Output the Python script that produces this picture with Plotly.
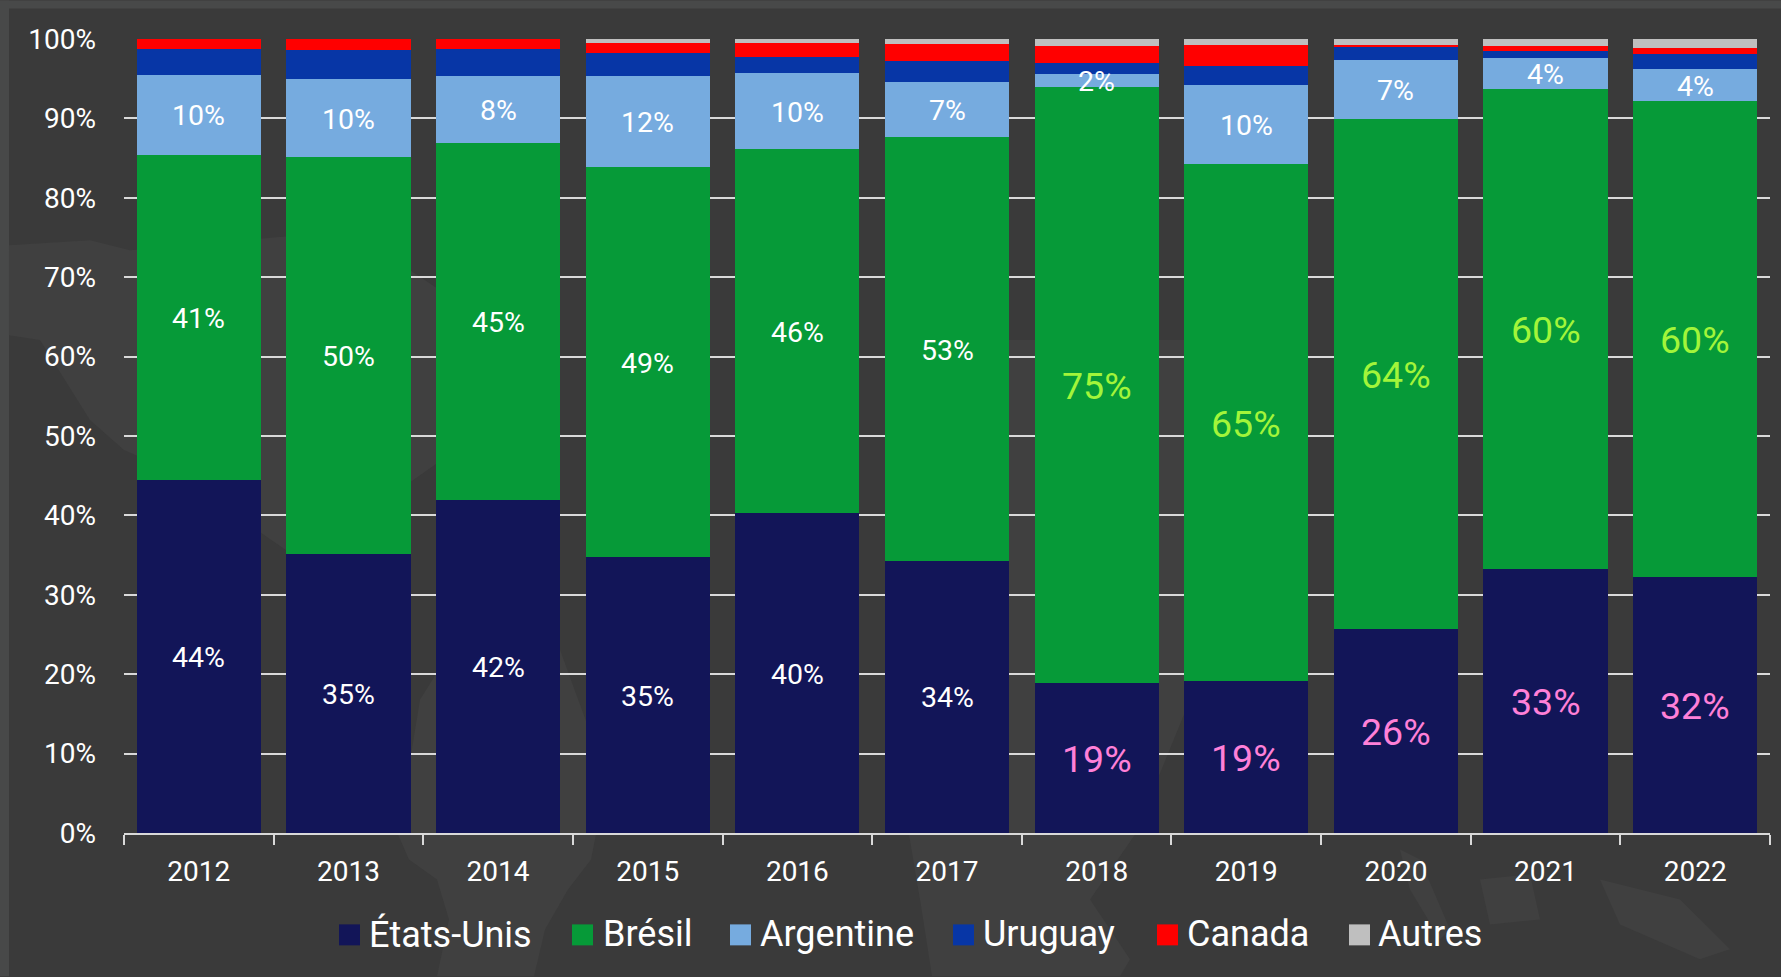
import plotly.graph_objects as go

years = ["2012","2013","2014","2015","2016","2017","2018","2019","2020","2021","2022"]

etats_unis = [44.4, 35.1, 42.0, 34.7, 40.3, 34.3, 18.9, 19.1, 25.7, 33.3, 32.3]
bresil     = [41.0, 50.1, 44.9, 49.2, 45.8, 53.3, 75.0, 65.2, 64.2, 60.45, 59.9]
argentine  = [10.1, 9.7, 8.4, 11.5, 9.6, 6.95, 1.7, 9.9, 7.4, 3.85, 4.0]
uruguay    = [3.3, 3.7, 3.4, 2.8, 2.0, 2.65, 1.38, 2.4, 1.7, 0.9, 1.9]
canada     = [1.2, 1.4, 1.3, 1.3, 1.75, 2.2, 2.12, 2.6, 0.2, 0.6, 0.8]
autres     = [0.0, 0.0, 0.0, 0.5, 0.55, 0.6, 0.9, 0.8, 0.8, 0.9, 1.1]

labels_us = ["44%","35%","42%","35%","40%","34%","19%","19%","26%","33%","32%"]
labels_br = ["41%","50%","45%","49%","46%","53%","75%","65%","64%","60%","60%"]
labels_ar = ["10%","10%","8%","12%","10%","7%","2%","10%","7%","4%","4%"]

names = ["États-Unis","Brésil","Argentine","Uruguay","Canada","Autres"]
colors = ["#121558","#069a38","#76abdf","#0736a6","#ff0000","#bfbfbf"]
series = [etats_unis, bresil, argentine, uruguay, canada, autres]

W, H = 1781, 977
L, R, T, B = 124, 1770, 38.5, 833.5
FONT = "Roboto"

fig = go.Figure()
for n, c, s in zip(names, colors, series):
    fig.add_trace(go.Bar(x=years, y=s, name=n, marker=dict(color=c, line=dict(width=0)), showlegend=False))

annotations = []

def add_labels(base, vals, texts, big_color, small_color="#ffffff"):
    for i, (b, v, t) in enumerate(zip(base, vals, texts)):
        big = i >= 6 and big_color != small_color
        annotations.append(dict(
            x=i, y=b + v / 2, xref="x", yref="y", text=t, showarrow=False,
            xanchor="center", yanchor="middle", yshift=-1,
            font=dict(family=FONT, size=37.5 if big else 28.5, color=big_color if big else small_color)))

add_labels([0]*11, etats_unis, labels_us, "#ff80d8")
add_labels(etats_unis, bresil, labels_br, "#a2f53a")
base_ar = [a + b for a, b in zip(etats_unis, bresil)]
add_labels(base_ar, argentine, labels_ar, "#ffffff")

def px(x): return (x - L) / (R - L)
def py(y): return (B - y) / (B - T)

def land(points):
    d = "M " + " L ".join(f"{px(x):.5f},{py(y):.5f}" for x, y in points) + " Z"
    return dict(type="path", xref="paper", yref="paper", path=d, fillcolor="#404040", line_width=0, layer="below")

shapes = [
    dict(type="rect", xref="paper", yref="paper", x0=px(0), x1=px(W), y0=py(0), y1=py(8),
         fillcolor="#484949", line_width=0, layer="below"),
    dict(type="rect", xref="paper", yref="paper", x0=px(0), x1=px(9), y0=py(0), y1=py(H),
         fillcolor="#484949", line_width=0, layer="below"),
    # faint world-map backdrop
    land([(9,245),(90,240),(130,250),(300,235),(350,230),(440,290),(470,440),(300,560),(170,470),(124,450),(90,420),(40,340),(9,335)]),
    land([(470,620),(560,650),(600,760),(596,835),(591,860),(568,890),(545,930),(534,977),(437,977),(449,920),(437,880),(409,860),(398,835),(420,700)]),
    land([(990,340),(1190,340),(1190,700),(1135,835),(1090,900),(1130,960),(1120,977),(932,977),(920,900),(909,835),(930,600),(1000,500)]),
    land([(1400,850),(1420,860),(1450,930),(1440,940),(1410,890)]),
    land([(1480,880),(1530,875),(1540,920),(1490,925)]),
    land([(1600,880),(1680,900),(1730,950),(1700,960),(1620,925)]),
]

# Legend built from the series names (swatch left edges and text left edges)
swatch_x = [339, 572, 730, 953, 1157, 1349]
text_x = [370, 604, 761, 984, 1188, 1379]
for n, c, sx, tx in zip(names, colors, swatch_x, text_x):
    shapes.append(dict(type="rect", xref="paper", yref="paper", x0=px(sx), x1=px(sx + 21),
                       y0=py(946), y1=py(925), fillcolor=c, line_width=0, layer="above"))
    annotations.append(dict(xref="paper", yref="paper", x=px(tx), y=py(935), text=n, showarrow=False,
                            xanchor="left", yanchor="middle", xshift=-3,
                            font=dict(family=FONT, size=36, color="#ffffff")))

fig.update_layout(
    width=W, height=H,
    margin=dict(l=L, r=W - R, t=T, b=H - B, pad=0),
    barmode="stack", bargap=0.17,
    paper_bgcolor="#3a3a3a", plot_bgcolor="rgba(0,0,0,0)",
    shapes=shapes, annotations=annotations,
    font=dict(family=FONT, color="#ffffff"),
    xaxis=dict(type="category", range=[-0.5, 10.5], tickson="boundaries", ticks="outside", ticklen=10, tickwidth=2,
               tickcolor="#d9d9d9", showline=True, linecolor="#d9d9d9", linewidth=2, showgrid=False,
               tickfont=dict(family=FONT, size=28, color="#ffffff"), ticklabelstandoff=12),
    yaxis=dict(range=[0, 100], dtick=10, ticksuffix="%", showgrid=True, gridcolor="#d9d9d9", gridwidth=2,
               zeroline=False, showline=False, ticks="",
               tickfont=dict(family=FONT, size=28, color="#ffffff"), ticklabelstandoff=27),
)

fig.write_html("out.html", config={"displayModeBar": False},
               post_script="document.body.style.margin='0';document.body.style.overflow='hidden';")
